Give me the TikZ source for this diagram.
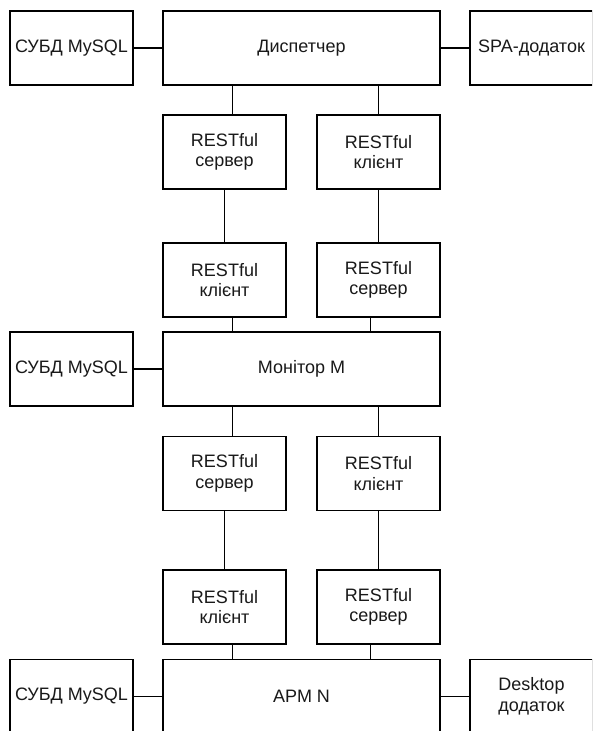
\documentclass[tikz,border=0pt]{standalone}
\usepackage{fontspec}
\setmainfont{Liberation Sans}
\begin{document}
\begin{tikzpicture}[x=1pt,y=-1pt,
  box/.style={draw=black,line width=1.2pt,fill=white,inner sep=0pt,align=center,
    font=\fontsize{18}{20.5}\selectfont,text=black!90},
  sbox/.style={box,minimum width=123pt,minimum height=74pt},
  wbox/.style={box,minimum width=277pt,minimum height=74pt},
  link/.style={draw=black,line width=1.2pt}]
\useasboundingbox (0,0) rectangle (592,731);
\clip (0,0) rectangle (592,731);
\coordinate (xa) at (232.25,0);
\coordinate (xb) at (370.75,0);
% top row
\node[sbox] (db1) at (71.5,48) {СУБД MySQL};
\node[wbox] (disp) at (301.5,48) {Диспетчер};
\node[sbox] (spa) at (531.5,48) {SPA-додаток};
% REST row 1
\node[sbox] (r1l) at (224.5,152) {RESTful\\сервер};
\node[sbox] (r1r) at (378.5,152) {RESTful\\клієнт};
% REST row 2
\node[sbox] (r2l) at (224.5,280) {RESTful\\клієнт};
\node[sbox] (r2r) at (378.5,280) {RESTful\\сервер};
% monitor row
\node[sbox] (db2) at (71.5,369) {СУБД MySQL};
\node[wbox] (mon) at (301.5,369) {Монітор M};
% REST row 3
\node[sbox] (r3l) at (224.5,473.5) {RESTful\\сервер};
\node[sbox] (r3r) at (378.5,473.5) {RESTful\\клієнт};
% REST row 4
\node[sbox] (r4l) at (224.5,607) {RESTful\\клієнт};
\node[sbox] (r4r) at (378.5,607) {RESTful\\сервер};
% bottom row
\node[sbox] (db3) at (71.5,696.5) {СУБД MySQL};
\node[wbox] (apm) at (301.5,696.5) {APM N};
\node[sbox] (desk) at (531.5,696.5) {Desktop\\додаток};
% connectors
\draw[link] (db1.east) -- (disp.west);
\draw[link] (disp.east) -- (spa.west);
\draw[link] (disp.south -| xa) -- (r1l.north -| xa);
\draw[link] (disp.south -| r1r.north) -- (r1r.north);
\draw[link] (r1l.south) -- (r2l.north);
\draw[link] (r1r.south) -- (r2r.north);
\draw[link] (r2l.south -| xa) -- (mon.north -| xa);
\draw[link] (r2r.south -| xb) -- (mon.north -| xb);
\draw[link] (db2.east) -- (mon.west);
\draw[link] (mon.south -| xa) -- (r3l.north -| xa);
\draw[link] (mon.south -| r3r.north) -- (r3r.north);
\draw[link] (r3l.south) -- (r4l.north);
\draw[link] (r3r.south) -- (r4r.north);
\draw[link] (r4l.south -| xa) -- (apm.north -| xa);
\draw[link] (r4r.south -| xb) -- (apm.north -| xb);
\draw[link] (db3.east) -- (apm.west);
\draw[link] (apm.east) -- (desk.west);
\end{tikzpicture}
\end{document}
